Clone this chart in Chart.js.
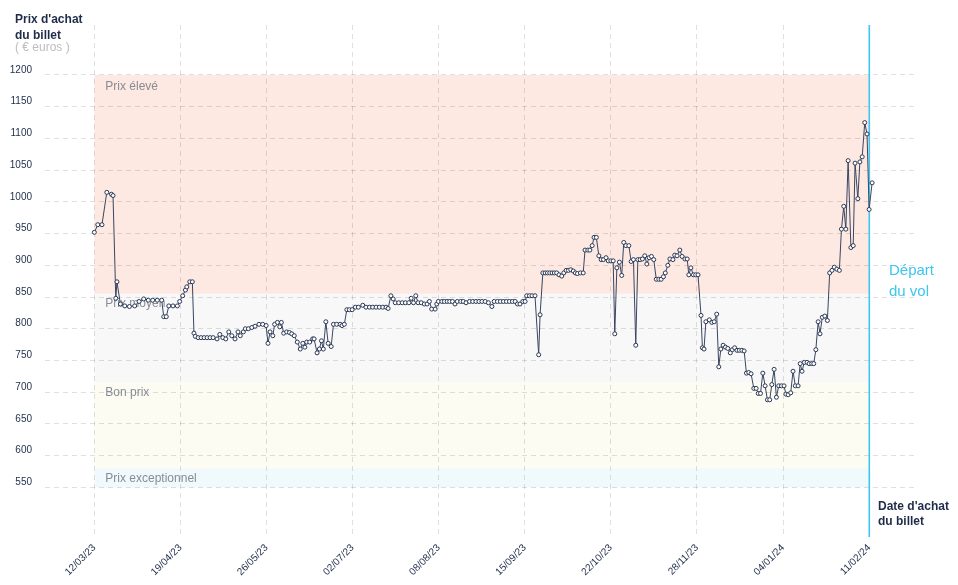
<!DOCTYPE html>
<html><head><meta charset="utf-8">
<script src="https://cdn.jsdelivr.net/npm/chart.js@4.4.1/dist/chart.umd.min.js"></script>
<style>html,body{margin:0;padding:0;background:#fff;}canvas{display:block}</style>
</head><body>
<canvas id="c" width="958" height="585"></canvas>
<script>
// Days since 12/03/23 on which the ticket price was checked
const purchaseDays = [
0,1.5,3.3,5.4,7.4,8.1,9.3,9.8,11.3,13.2,
15.2,17.5,19.4,21.4,23.4,25.3,27.3,29.2,30.1,31.2,
32.3,34.1,36.0,37.0,38.3,39.5,40.1,41.4,42.5,43.2,
43.8,45.0,46.3,47.6,48.9,50.2,51.5,53.2,54.4,55.7,
57.0,58.3,59.6,61.0,62.3,63.3,64.6,65.5,66.8,68.3,
69.7,71.4,73.0,74.5,75.3,76.2,77.4,78.2,79.4,80.4,
81.1,82.1,83.4,84.6,85.6,86.7,88.0,89.3,90.4,91.3,
92.1,93.4,94.7,95.3,96.6,97.6,98.5,99.3,100.4,101.4,
102.7,103.7,105.1,106.6,107.4,108.4,109.5,110.6,111.8,113.2,
114.5,116.4,117.8,119.3,120.7,122.2,123.6,125.1,126.5,127.4,
128.6,129.6,130.5,132.0,133.5,134.9,136.4,137.4,138.4,139.4,
140.4,141.8,143.1,144.3,145.3,146.3,147.8,148.5,149.2,150.7,
151.8,153.0,154.1,155.3,156.4,157.4,158.9,160.0,161.2,162.7,
164.1,165.5,166.8,168.1,169.5,170.9,172.4,173.4,174.8,176.1,
177.4,178.7,180.0,181.3,182.5,183.5,184.6,185.8,186.8,187.5,
188.7,189.8,191.1,192.7,193.3,194.5,195.5,196.5,197.5,198.5,
199.5,200.5,201.5,202.7,203.6,204.6,205.6,206.6,207.7,208.6,
209.5,210.8,212.0,212.8,214.0,214.9,215.9,216.7,217.7,218.8,
219.8,220.8,221.9,222.9,224.0,225.0,225.7,226.6,227.7,228.7,
229.6,230.5,231.8,232.8,233.8,234.8,235.7,236.7,237.7,238.7,
239.6,240.6,241.6,242.6,243.7,244.8,245.8,246.8,247.6,248.7,
249.6,250.9,251.7,252.7,253.9,254.9,256.1,257.1,257.8,258.7,
259.8,260.8,261.8,263.1,263.7,264.4,265.2,266.7,267.8,268.8,
269.9,270.8,271.7,272.7,273.7,274.7,275.8,276.7,277.7,278.7,
279.7,280.8,281.8,282.8,283.8,284.8,286.0,287.0,287.9,288.9,
289.9,290.9,291.9,292.9,293.8,294.8,295.8,296.8,298.0,299.1,
299.9,300.9,302.0,303.0,304.0,305.2,306.1,306.9,307.9,309.1,
310.0,311.1,312.0,312.9,313.9,314.7,315.7,316.8,317.9,318.9,
319.9,320.9,322.0,323.1,324.0,325.0,325.9,326.9,328.1,329.1,
329.9,331.1,332.0,333.0,334.1,335.1,336.0,337.3];

// Ticket price (€)
const prices = [
952,964,964,1015,1012,1010,848,874,839,836,
835,836,843,847,845,845,845,845,819,819,
836,836,836,843,852,861,866,874,874,793,
788,786,786,786,786,786,786,784,791,786,
784,795,789,784,795,789,795,800,800,802,
804,807,807,805,777,795,789,807,810,803,
810,793,795,794,792,789,779,768,777,771,
779,779,784,784,762,768,781,768,811,777,
772,807,807,807,805,807,830,830,830,834,
834,837,834,834,834,834,834,834,834,832,
852,847,841,841,841,841,841,848,841,852,
841,841,839,839,843,831,831,839,843,843,
843,843,843,843,839,843,843,843,841,843,
843,843,843,843,843,841,835,843,843,843,
843,843,843,843,843,839,839,843,843,852,
852,852,852,759,822,888,888,888,888,888,
888,888,885,883,888,892,892,893,891,888,
887,888,888,924,924,924,931,944,944,915,
909,909,912,907,907,907,792,896,905,884,
936,931,931,906,909,774,909,909,910,915,
902,912,914,909,878,878,878,882,888,900,
910,909,916,915,924,914,910,910,885,896,
885,885,885,821,770,768,811,814,810,811,
823,740,768,774,771,769,762,767,770,766,
766,766,765,730,731,729,706,706,698,698,
730,710,688,688,712,736,692,710,710,710,
697,696,699,733,710,710,745,733,747,747,
745,745,745,767,811,792,818,820,813,888,
892,897,894,892,957,993,957,1065,928,931,
1061,1005,1063,1071,1125,1107,988,1030];

const tickLabels = ['12/03/23','19/04/23','26/05/23','02/07/23','08/08/23','15/09/23','22/10/23','28/11/23','04/01/24','11/02/24'];
const tickDays = [0,37.33,74.67,112,149.33,186.67,224,261.33,298.67,336];
const yTicks = [550,600,650,700,750,800,850,900,950,1000,1050,1100,1150,1200];

const bandNames = ['Prix élevé','Prix moyen','Bon prix','Prix exceptionnel'];
const bandHigh = [1200,855,715,580];
const bandLow = [855,715,580,550];
const bandColors = ['#fde8e2','#f8f8f9','#fcfcf3','#f0fafd'];
const departureDay = 336;

const NAVY = '#1f2c49';
const CYAN = '#3cc6f0';
const FONT = '"Liberation Sans", Arial, sans-serif';

const bandsPlugin = {
  id: 'bands',
  beforeDraw(chart) {
    const {ctx, scales:{x,y}} = chart;
    ctx.save();
    ctx.fillStyle = '#fff';
    ctx.fillRect(0,0,chart.width,chart.height);
    const x0 = x.getPixelForValue(0), x1 = x.getPixelForValue(departureDay);
    bandNames.forEach((n,i)=>{
      const yt = y.getPixelForValue(bandHigh[i]), yb = y.getPixelForValue(bandLow[i]);
      ctx.fillStyle = bandColors[i];
      ctx.fillRect(x0, yt, x1-x0, yb-yt);
    });
    ctx.restore();
  },
  beforeDatasetsDraw(chart) {
    const {ctx, chartArea, scales:{x,y}} = chart;
    ctx.save();
    ctx.setLineDash([]);
    ctx.globalAlpha = 1;
    ctx.font = '12px ' + FONT;
    ctx.fillStyle = '#878c96';
    ctx.textBaseline = 'middle';
    const x0 = x.getPixelForValue(0);
    bandNames.forEach((n,i)=>{
      const yt = y.getPixelForValue(bandHigh[i]);
      ctx.fillText(n, x0 + 11, yt + (i===0 ? 12 : 10));
    });
    const px = Math.round(x.getPixelForValue(departureDay));
    ctx.fillStyle = CYAN;
    ctx.fillRect(px - 0.5, chartArea.top, 1.6, chartArea.bottom + 1 - chartArea.top);
    ctx.restore();
  },
  afterDraw(chart) {
    const {ctx, scales:{x}} = chart;
    ctx.save();
    const px = Math.round(x.getPixelForValue(departureDay));
    ctx.fillStyle = CYAN;
    ctx.font = '15px ' + FONT;
    ctx.textBaseline = 'alphabetic';
    ctx.fillText('Départ', px + 20, 275);
    ctx.fillText('du vol', px + 20, 296);
    ctx.fillStyle = NAVY;
    ctx.font = 'bold 12px ' + FONT;
    ctx.fillText("Date d'achat", px + 9, 510);
    ctx.fillText('du billet', px + 9, 525);
    ctx.fillText("Prix d'achat", 15, 23);
    ctx.fillText('du billet', 15, 39);
    ctx.fillStyle = '#bdbdbd';
    ctx.font = '12px ' + FONT;
    ctx.fillText('( € euros )', 15, 51);
    ctx.restore();
  }
};

new Chart(document.getElementById('c'), {
  type: 'line',
  data: {
    datasets: [{
      data: purchaseDays.map((d,i)=>({x:d, y:prices[i]})),
      borderColor: '#3a4661',
      borderWidth: 1,
      pointRadius: 2,
      pointBorderWidth: 1,
      pointBackgroundColor: '#ffffff',
      pointBorderColor: '#2b3854',
      tension: 0
    }]
  },
  plugins: [bandsPlugin],
  options: {
    responsive: false,
    animation: false,
    devicePixelRatio: 1,
    layout: { padding: { left: 0, top: 25, right: 40, bottom: 0 } },
    plugins: { legend: {display:false}, tooltip: {enabled:false} },
    scales: {
      x: {
        type: 'linear',
        min: -21.4, max: 357.2,
        afterBuildTicks(s){ s.ticks = tickDays.map(v=>({value:v})); },
        afterFit(s){ s.height = 49; },
        border: { display: false, dash: [5,4] },
        grid: { color: 'rgba(0,0,0,0.12)', drawTicks: false },
        ticks: {
          autoSkip: false, minRotation: 45, maxRotation: 45, padding: 6,
          color: NAVY, font: { family: FONT, size: 10 },
          callback(v, i){ return tickLabels[i]; }
        }
      },
      y: {
        min: 473.3, max: 1278.8,
        afterBuildTicks(s){ s.ticks = yTicks.map(v=>({value:v})); },
        afterFit(s){ s.width = 45; },
        border: { display: false, dash: [5,4] },
        grid: { color: 'rgba(0,0,0,0.12)', drawTicks: false },
        ticks: {
          padding: 13, labelOffset: -5,
          color: NAVY, font: { family: FONT, size: 10 },
          callback(v){ return String(v); }
        }
      }
    }
  }
});
</script>
</body></html>
